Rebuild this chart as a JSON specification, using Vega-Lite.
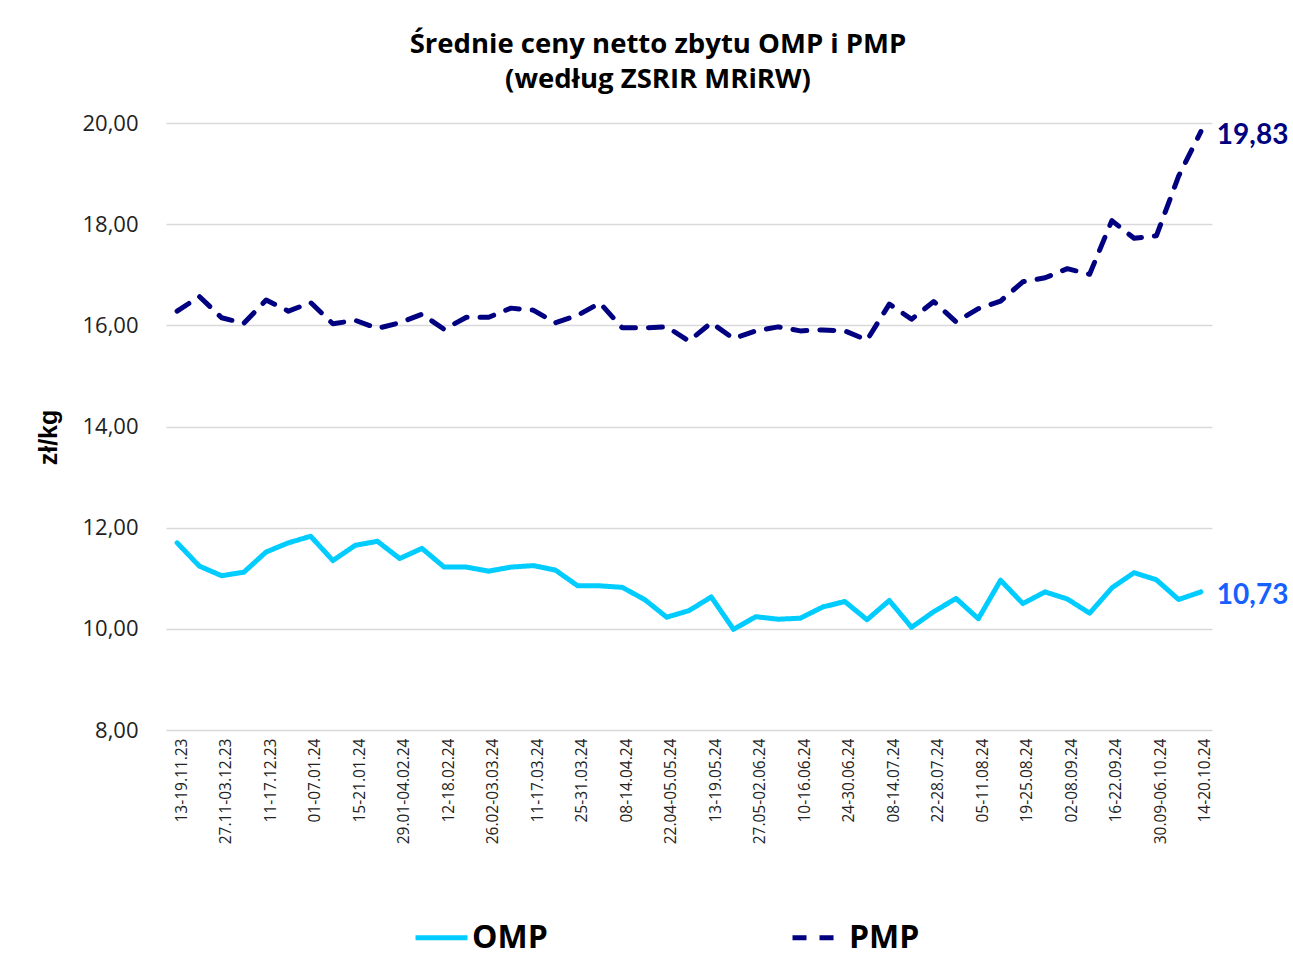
{
  "$schema": "https://vega.github.io/schema/vega-lite/v6.json",
  "width": 1046,
  "height": 607,
  "autosize": "none",
  "padding": {"left": 166, "top": 123, "right": 81, "bottom": 231},
  "background": "white",
  "config": {
    "locale": {"number": {"decimal": ",", "thousands": " ", "grouping": [3], "currency": ["", " zł"]}},
    "view": {"stroke": null},
    "font": "Open Sans"
  },
  "title": {
    "text": ["Średnie ceny netto zbytu OMP i PMP", "(według ZSRIR MRiRW)"],
    "font": "Open Sans",
    "fontSize": 27.5,
    "fontWeight": "bold",
    "color": "#000000",
    "lineHeight": 35,
    "anchor": "middle",
    "frame": "group",
    "dx": -31,
    "offset": 19
  },
  "data": {"values": [
    {"week": "13-19.11.23", "series": "OMP", "value": 11.70},
    {"week": "20-26.11.23", "series": "OMP", "value": 11.24},
    {"week": "27.11-03.12.23", "series": "OMP", "value": 11.05},
    {"week": "04-10.12.23", "series": "OMP", "value": 11.12},
    {"week": "11-17.12.23", "series": "OMP", "value": 11.52},
    {"week": "18-31.12.23", "series": "OMP", "value": 11.70},
    {"week": "01-07.01.24", "series": "OMP", "value": 11.83},
    {"week": "08-14.01.24", "series": "OMP", "value": 11.35},
    {"week": "15-21.01.24", "series": "OMP", "value": 11.65},
    {"week": "22-28.01.24", "series": "OMP", "value": 11.73},
    {"week": "29.01-04.02.24", "series": "OMP", "value": 11.39},
    {"week": "05-11.02.24", "series": "OMP", "value": 11.59},
    {"week": "12-18.02.24", "series": "OMP", "value": 11.22},
    {"week": "19-25.02.24", "series": "OMP", "value": 11.22},
    {"week": "26.02-03.03.24", "series": "OMP", "value": 11.14},
    {"week": "04-10.03.24", "series": "OMP", "value": 11.22},
    {"week": "11-17.03.24", "series": "OMP", "value": 11.25},
    {"week": "18-24.03.24", "series": "OMP", "value": 11.16},
    {"week": "25-31.03.24", "series": "OMP", "value": 10.85},
    {"week": "01-07.04.24", "series": "OMP", "value": 10.85},
    {"week": "08-14.04.24", "series": "OMP", "value": 10.82},
    {"week": "15-21.04.24", "series": "OMP", "value": 10.58},
    {"week": "22.04-05.05.24", "series": "OMP", "value": 10.23},
    {"week": "06-12.05.24", "series": "OMP", "value": 10.36},
    {"week": "13-19.05.24", "series": "OMP", "value": 10.63},
    {"week": "20-26.05.24", "series": "OMP", "value": 9.99},
    {"week": "27.05-02.06.24", "series": "OMP", "value": 10.24},
    {"week": "03-09.06.24", "series": "OMP", "value": 10.19},
    {"week": "10-16.06.24", "series": "OMP", "value": 10.21},
    {"week": "17-23.06.24", "series": "OMP", "value": 10.43},
    {"week": "24-30.06.24", "series": "OMP", "value": 10.54},
    {"week": "01-07.07.24", "series": "OMP", "value": 10.18},
    {"week": "08-14.07.24", "series": "OMP", "value": 10.56},
    {"week": "15-21.07.24", "series": "OMP", "value": 10.03},
    {"week": "22-28.07.24", "series": "OMP", "value": 10.34},
    {"week": "29.07-04.08.24", "series": "OMP", "value": 10.60},
    {"week": "05-11.08.24", "series": "OMP", "value": 10.20},
    {"week": "12-18.08.24", "series": "OMP", "value": 10.96},
    {"week": "19-25.08.24", "series": "OMP", "value": 10.50},
    {"week": "26.08-01.09.24", "series": "OMP", "value": 10.73},
    {"week": "02-08.09.24", "series": "OMP", "value": 10.59},
    {"week": "09-15.09.24", "series": "OMP", "value": 10.31},
    {"week": "16-22.09.24", "series": "OMP", "value": 10.81},
    {"week": "23-29.09.24", "series": "OMP", "value": 11.11},
    {"week": "30.09-06.10.24", "series": "OMP", "value": 10.97},
    {"week": "07-13.10.24", "series": "OMP", "value": 10.58},
    {"week": "14-20.10.24", "series": "OMP", "value": 10.73},
    {"week": "13-19.11.23", "series": "PMP", "value": 16.28},
    {"week": "20-26.11.23", "series": "PMP", "value": 16.57},
    {"week": "27.11-03.12.23", "series": "PMP", "value": 16.15},
    {"week": "04-10.12.23", "series": "PMP", "value": 16.04},
    {"week": "11-17.12.23", "series": "PMP", "value": 16.50},
    {"week": "18-31.12.23", "series": "PMP", "value": 16.28},
    {"week": "01-07.01.24", "series": "PMP", "value": 16.45},
    {"week": "08-14.01.24", "series": "PMP", "value": 16.03},
    {"week": "15-21.01.24", "series": "PMP", "value": 16.10},
    {"week": "22-28.01.24", "series": "PMP", "value": 15.94},
    {"week": "29.01-04.02.24", "series": "PMP", "value": 16.05},
    {"week": "05-11.02.24", "series": "PMP", "value": 16.22},
    {"week": "12-18.02.24", "series": "PMP", "value": 15.92},
    {"week": "19-25.02.24", "series": "PMP", "value": 16.16},
    {"week": "26.02-03.03.24", "series": "PMP", "value": 16.16},
    {"week": "04-10.03.24", "series": "PMP", "value": 16.34},
    {"week": "11-17.03.24", "series": "PMP", "value": 16.30},
    {"week": "18-24.03.24", "series": "PMP", "value": 16.05},
    {"week": "25-31.03.24", "series": "PMP", "value": 16.20},
    {"week": "01-07.04.24", "series": "PMP", "value": 16.44},
    {"week": "08-14.04.24", "series": "PMP", "value": 15.95},
    {"week": "15-21.04.24", "series": "PMP", "value": 15.95},
    {"week": "22.04-05.05.24", "series": "PMP", "value": 15.97},
    {"week": "06-12.05.24", "series": "PMP", "value": 15.69},
    {"week": "13-19.05.24", "series": "PMP", "value": 16.05},
    {"week": "20-26.05.24", "series": "PMP", "value": 15.74},
    {"week": "27.05-02.06.24", "series": "PMP", "value": 15.89},
    {"week": "03-09.06.24", "series": "PMP", "value": 15.97},
    {"week": "10-16.06.24", "series": "PMP", "value": 15.89},
    {"week": "17-23.06.24", "series": "PMP", "value": 15.91},
    {"week": "24-30.06.24", "series": "PMP", "value": 15.89},
    {"week": "01-07.07.24", "series": "PMP", "value": 15.71},
    {"week": "08-14.07.24", "series": "PMP", "value": 16.42},
    {"week": "15-21.07.24", "series": "PMP", "value": 16.12},
    {"week": "22-28.07.24", "series": "PMP", "value": 16.47},
    {"week": "29.07-04.08.24", "series": "PMP", "value": 16.07},
    {"week": "05-11.08.24", "series": "PMP", "value": 16.33},
    {"week": "12-18.08.24", "series": "PMP", "value": 16.48},
    {"week": "19-25.08.24", "series": "PMP", "value": 16.86},
    {"week": "26.08-01.09.24", "series": "PMP", "value": 16.94},
    {"week": "02-08.09.24", "series": "PMP", "value": 17.12},
    {"week": "09-15.09.24", "series": "PMP", "value": 17.01},
    {"week": "16-22.09.24", "series": "PMP", "value": 18.07},
    {"week": "23-29.09.24", "series": "PMP", "value": 17.72},
    {"week": "30.09-06.10.24", "series": "PMP", "value": 17.77},
    {"week": "07-13.10.24", "series": "PMP", "value": 18.95},
    {"week": "14-20.10.24", "series": "PMP", "value": 19.83}
  ]},
  "encoding": {
    "x": {
      "field": "week",
      "type": "nominal",
      "sort": null,
      "scale": {"type": "point", "padding": 0.5},
      "axis": {
        "title": null,
        "values": ["13-19.11.23", "27.11-03.12.23", "11-17.12.23", "01-07.01.24", "15-21.01.24", "29.01-04.02.24", "12-18.02.24", "26.02-03.03.24", "11-17.03.24", "25-31.03.24", "08-14.04.24", "22.04-05.05.24", "13-19.05.24", "27.05-02.06.24", "10-16.06.24", "24-30.06.24", "08-14.07.24", "22-28.07.24", "05-11.08.24", "19-25.08.24", "02-08.09.24", "16-22.09.24", "30.09-06.10.24", "14-20.10.24"],
        "labelAngle": -90,
        "labelFont": "Open Sans",
        "labelFontSize": 15.5,
        "labelColor": "#222222",
        "labelPadding": 8,
        "labelOffset": 4,
        "ticks": false,
        "domain": false,
        "grid": false,
        "labelOverlap": false,
        "labelBound": false
      }
    },
    "y": {
      "field": "value",
      "type": "quantitative",
      "scale": {"domain": [8, 20], "nice": false, "zero": false},
      "axis": {
        "title": "zł/kg",
        "titleFont": "Liberation Sans",
        "titleFontSize": 25,
        "titleFontWeight": "bold",
        "titleColor": "#000000",
        "titleX": -118,
        "titleY": 314,
        "titleAngle": -90,
        "titleAlign": "center",
        "titleBaseline": "middle",
        "values": [8, 10, 12, 14, 16, 18, 20],
        "format": ".2f",
        "labelFont": "Open Sans",
        "labelFontSize": 22,
        "labelColor": "#222222",
        "labelPadding": 28,
        "ticks": false,
        "domain": false,
        "grid": true,
        "gridColor": "#d9d9d9",
        "gridWidth": 1.5
      }
    }
  },
  "layer": [
    {
      "mark": {"type": "line", "strokeWidth": 5, "strokeCap": "round", "strokeJoin": "round"},
      "encoding": {
        "color": {
          "field": "series",
          "type": "nominal",
          "scale": {"domain": ["OMP", "PMP"], "range": ["#00CCFF", "#000080"]},
          "legend": {
            "title": null,
            "orient": "none",
            "legendX": 247,
            "legendY": 786,
            "direction": "horizontal",
            "symbolType": "stroke",
            "symbolSize": 2700,
            "symbolStrokeWidth": 5,
            "labelFont": "Open Sans",
            "labelFontSize": 32,
            "labelFontWeight": "bold",
            "labelColor": "#000000",
            "labelOffset": 2,
            "columnPadding": 234
          }
        },
        "strokeDash": {
          "field": "series",
          "type": "nominal",
          "scale": {"domain": ["OMP", "PMP"], "range": [[1, 0], [14, 13]]},
          "legend": null
        }
      }
    },
    {
      "transform": [{"filter": "datum.week === '14-20.10.24'"}],
      "mark": {"type": "text", "align": "left", "baseline": "middle", "dx": 16, "dy": 4, "font": "Lato", "fontSize": 28, "fontWeight": "bold"},
      "encoding": {
        "text": {"field": "value", "type": "quantitative", "format": ".2f"},
        "color": {
          "condition": {"test": "datum.series === 'OMP'", "value": "#1560ff"},
          "value": "#000080"
        }
      }
    }
  ]
}
